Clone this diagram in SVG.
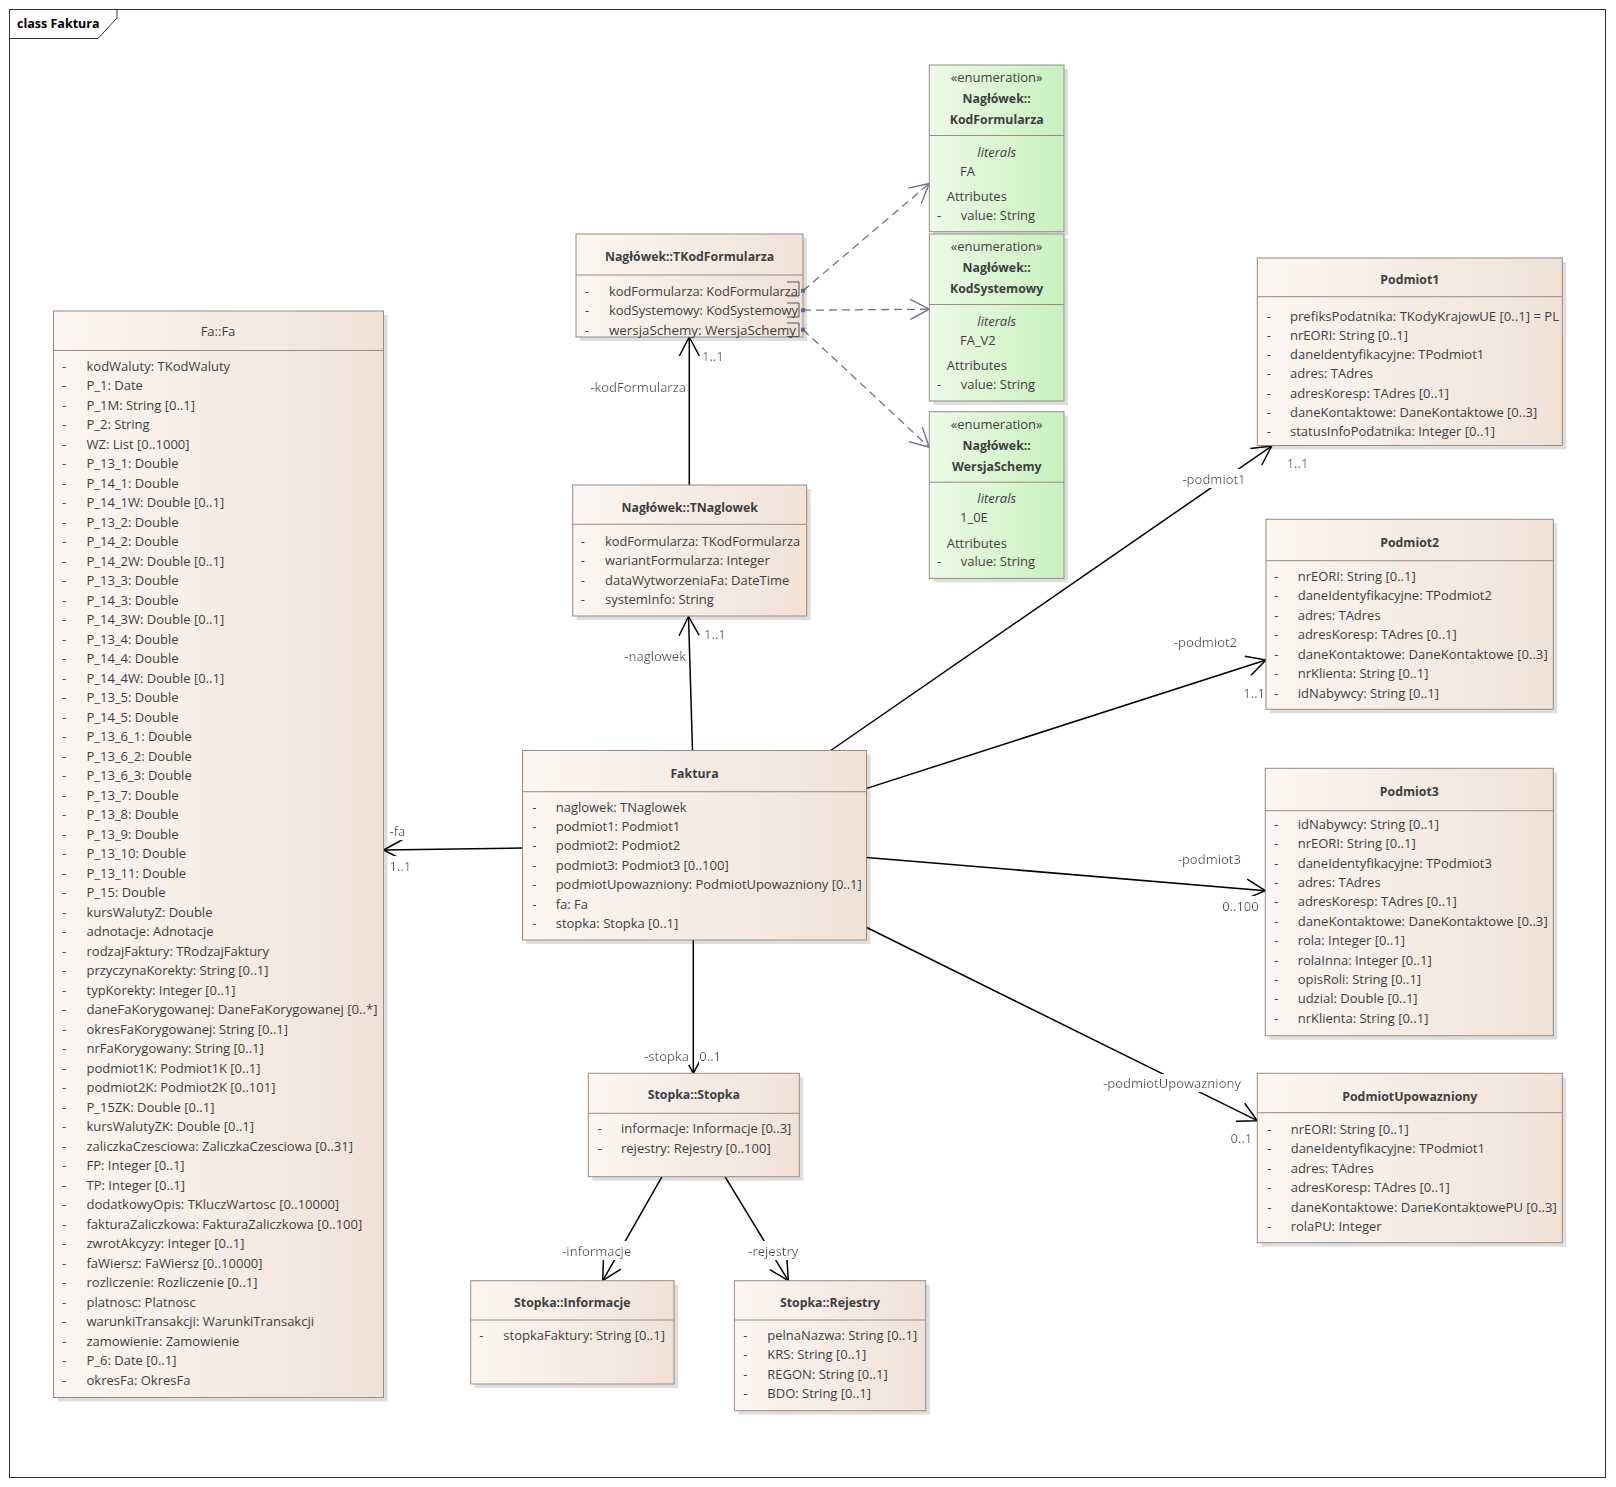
<svg xmlns="http://www.w3.org/2000/svg" width="1616" height="1487" viewBox="0 0 1616 1487">
<defs>
<linearGradient id="cls" x1="0" y1="0" x2="1" y2="0"><stop offset="0" stop-color="#fbf6f2"/><stop offset="1" stop-color="#f1e2d7"/></linearGradient>
<linearGradient id="enm" x1="0" y1="0" x2="1" y2="0"><stop offset="0" stop-color="#ecfbe7"/><stop offset="1" stop-color="#c9f0be"/></linearGradient>
<marker id="arr" markerUnits="userSpaceOnUse" viewBox="-21 -12 23 24" refX="0" refY="0" markerWidth="23" markerHeight="24" orient="auto"><path d="M-19,-10 L0,0 L-19,10" fill="none" stroke="#000" stroke-width="1.5"/></marker>
<marker id="arrg" markerUnits="userSpaceOnUse" viewBox="-21 -12 23 24" refX="0" refY="0" markerWidth="23" markerHeight="24" orient="auto"><path d="M-19,-10 L0,0 L-19,10" fill="none" stroke="#6a7684" stroke-width="1.4"/></marker>
<filter id="bg" x="0" y="0" width="1" height="1"><feFlood flood-color="#ffffff"/><feComposite in="SourceGraphic"/></filter>
</defs>
<style>
.t{font-family:"Open Sans","Noto Sans",sans-serif;font-size:13px;fill:#3e3e3e}
.h{font-weight:bold;font-size:12.3px;text-anchor:middle}
.m{text-anchor:middle}
.e{text-anchor:end}
.i{font-style:italic}
.box{fill:url(#cls);stroke:#9a8a82;stroke-width:1}
.en{fill:url(#enm);stroke:#8e8e84;stroke-width:1}
.sh{fill:#000;opacity:.13}
.sep{stroke:#9a8a82;stroke-width:1}
.c{stroke:#000;stroke-width:1.5;fill:none;marker-end:url(#arr)}
.d{stroke:#6a7684;stroke-width:1.3;stroke-dasharray:8 5;fill:none;marker-end:url(#arrg)}
.lb{fill:#4a4a4a}
.lb text{filter:url(#bg)}
.port{fill:none;stroke:#555;stroke-width:1}
</style>
<rect x="0" y="0" width="1616" height="1487" fill="#fff"/>
<g id="frame">
<rect x="9.5" y="9.5" width="1596" height="1468" fill="none" stroke="#333" stroke-width="1"/>
<path d="M9.5,38.5 H98 L117,18 V9.5" fill="none" stroke="#333" stroke-width="1"/>
<text x="17" y="28" class="t" style="font-weight:bold;font-size:12.5px;fill:#000">class Faktura</text>
</g>

<g id="connectors">
<path class="c" d="M689.3,485 V337"/>
<path class="c" d="M692.5,750.5 L688.5,616.5"/>
<path class="c" d="M522.5,848 L383.5,850"/>
<path class="c" d="M693.3,940 V1073.3"/>
<path class="c" d="M662,1176.7 L602.7,1280.7"/>
<path class="c" d="M725,1176.7 L788.3,1280.7"/>
<path class="c" d="M830.7,750.5 L1271.7,446"/>
<path class="c" d="M866.7,788.4 L1266,660"/>
<path class="c" d="M866.7,857.4 L1265.3,890.7"/>
<path class="c" d="M866.7,927.5 L1257.3,1120.7"/>
<path class="d" d="M803,290.7 L929.3,183.5"/>
<path class="d" d="M803,310.2 L929.3,309.2"/>
<path class="d" d="M803,329.7 L929.3,447.3"/>
<g class="t lb">
<text x="702" y="360.5">1..1</text>
<text x="686" y="391.5" class="e">-kodFormularza</text>
<text x="704" y="638.5">1..1</text>
<text x="686" y="661" class="e">-naglowek</text>
<text x="389.5" y="835.5">-fa</text>
<text x="389.5" y="870.5">1..1</text>
<text x="689" y="1060.5" class="e">-stopka</text>
<text x="699.3" y="1060.5">0..1</text>
<text x="596.7" y="1255.5" class="m">-informacje</text>
<text x="773.3" y="1255.5" class="m">-rejestry</text>
<text x="1214" y="483.5" class="m">-podmiot1</text>
<text x="1286.7" y="468">1..1</text>
<text x="1205.5" y="646.5" class="m">-podmiot2</text>
<text x="1265" y="697.5" class="e">1..1</text>
<text x="1209.3" y="863.5" class="m">-podmiot3</text>
<text x="1258.7" y="910.5" class="e">0..100</text>
<text x="1172" y="1088" class="m">-podmiotUpowazniony</text>
<text x="1252.3" y="1143" class="e">0..1</text>
</g>
</g>

<g id="Fa">
<rect class="sh" x="57.5" y="315" width="330" height="1086.5"/>
<rect class="box" x="53.5" y="311" width="330" height="1086.5"/>
<line class="sep" x1="53.5" y1="350.5" x2="383.5" y2="350.5"/>
<text class="t m" x="218" y="335.5">Fa::Fa</text>
<g class="t">
<text x="62" y="370.5">-</text><text x="86.5" y="370.5">kodWaluty: TKodWaluty</text>
<text x="62" y="390">-</text><text x="86.5" y="390">P_1: Date</text>
<text x="62" y="409.5">-</text><text x="86.5" y="409.5">P_1M: String [0..1]</text>
<text x="62" y="429">-</text><text x="86.5" y="429">P_2: String</text>
<text x="62" y="448.5">-</text><text x="86.5" y="448.5">WZ: List [0..1000]</text>
<text x="62" y="468">-</text><text x="86.5" y="468">P_13_1: Double</text>
<text x="62" y="487.5">-</text><text x="86.5" y="487.5">P_14_1: Double</text>
<text x="62" y="507">-</text><text x="86.5" y="507">P_14_1W: Double [0..1]</text>
<text x="62" y="526.5">-</text><text x="86.5" y="526.5">P_13_2: Double</text>
<text x="62" y="546">-</text><text x="86.5" y="546">P_14_2: Double</text>
<text x="62" y="565.5">-</text><text x="86.5" y="565.5">P_14_2W: Double [0..1]</text>
<text x="62" y="585">-</text><text x="86.5" y="585">P_13_3: Double</text>
<text x="62" y="604.5">-</text><text x="86.5" y="604.5">P_14_3: Double</text>
<text x="62" y="624">-</text><text x="86.5" y="624">P_14_3W: Double [0..1]</text>
<text x="62" y="643.5">-</text><text x="86.5" y="643.5">P_13_4: Double</text>
<text x="62" y="663">-</text><text x="86.5" y="663">P_14_4: Double</text>
<text x="62" y="682.5">-</text><text x="86.5" y="682.5">P_14_4W: Double [0..1]</text>
<text x="62" y="702">-</text><text x="86.5" y="702">P_13_5: Double</text>
<text x="62" y="721.5">-</text><text x="86.5" y="721.5">P_14_5: Double</text>
<text x="62" y="741">-</text><text x="86.5" y="741">P_13_6_1: Double</text>
<text x="62" y="760.5">-</text><text x="86.5" y="760.5">P_13_6_2: Double</text>
<text x="62" y="780">-</text><text x="86.5" y="780">P_13_6_3: Double</text>
<text x="62" y="799.5">-</text><text x="86.5" y="799.5">P_13_7: Double</text>
<text x="62" y="819">-</text><text x="86.5" y="819">P_13_8: Double</text>
<text x="62" y="838.5">-</text><text x="86.5" y="838.5">P_13_9: Double</text>
<text x="62" y="858">-</text><text x="86.5" y="858">P_13_10: Double</text>
<text x="62" y="877.5">-</text><text x="86.5" y="877.5">P_13_11: Double</text>
<text x="62" y="897">-</text><text x="86.5" y="897">P_15: Double</text>
<text x="62" y="916.5">-</text><text x="86.5" y="916.5">kursWalutyZ: Double</text>
<text x="62" y="936">-</text><text x="86.5" y="936">adnotacje: Adnotacje</text>
<text x="62" y="955.5">-</text><text x="86.5" y="955.5">rodzajFaktury: TRodzajFaktury</text>
<text x="62" y="975">-</text><text x="86.5" y="975">przyczynaKorekty: String [0..1]</text>
<text x="62" y="994.5">-</text><text x="86.5" y="994.5">typKorekty: Integer [0..1]</text>
<text x="62" y="1014">-</text><text x="86.5" y="1014" textLength="291" lengthAdjust="spacingAndGlyphs">daneFaKorygowanej: DaneFaKorygowanej [0..*]</text>
<text x="62" y="1033.5">-</text><text x="86.5" y="1033.5">okresFaKorygowanej: String [0..1]</text>
<text x="62" y="1053">-</text><text x="86.5" y="1053">nrFaKorygowany: String [0..1]</text>
<text x="62" y="1072.5">-</text><text x="86.5" y="1072.5">podmiot1K: Podmiot1K [0..1]</text>
<text x="62" y="1092">-</text><text x="86.5" y="1092">podmiot2K: Podmiot2K [0..101]</text>
<text x="62" y="1111.5">-</text><text x="86.5" y="1111.5">P_15ZK: Double [0..1]</text>
<text x="62" y="1131">-</text><text x="86.5" y="1131">kursWalutyZK: Double [0..1]</text>
<text x="62" y="1150.5">-</text><text x="86.5" y="1150.5">zaliczkaCzesciowa: ZaliczkaCzesciowa [0..31]</text>
<text x="62" y="1170">-</text><text x="86.5" y="1170">FP: Integer [0..1]</text>
<text x="62" y="1189.5">-</text><text x="86.5" y="1189.5">TP: Integer [0..1]</text>
<text x="62" y="1209">-</text><text x="86.5" y="1209">dodatkowyOpis: TKluczWartosc [0..10000]</text>
<text x="62" y="1228.5">-</text><text x="86.5" y="1228.5">fakturaZaliczkowa: FakturaZaliczkowa [0..100]</text>
<text x="62" y="1248">-</text><text x="86.5" y="1248">zwrotAkcyzy: Integer [0..1]</text>
<text x="62" y="1267.5">-</text><text x="86.5" y="1267.5">faWiersz: FaWiersz [0..10000]</text>
<text x="62" y="1287">-</text><text x="86.5" y="1287">rozliczenie: Rozliczenie [0..1]</text>
<text x="62" y="1306.5">-</text><text x="86.5" y="1306.5">platnosc: Platnosc</text>
<text x="62" y="1326">-</text><text x="86.5" y="1326">warunkiTransakcji: WarunkiTransakcji</text>
<text x="62" y="1345.5">-</text><text x="86.5" y="1345.5">zamowienie: Zamowienie</text>
<text x="62" y="1365">-</text><text x="86.5" y="1365">P_6: Date [0..1]</text>
<text x="62" y="1384.5">-</text><text x="86.5" y="1384.5">okresFa: OkresFa</text>
</g>
</g>

<g id="TKodFormularza">
<rect class="sh" x="580" y="238" width="227" height="103"/>
<rect class="box" x="576" y="234" width="227" height="103"/>
<line class="sep" x1="576" y1="275" x2="803" y2="275"/>
<text class="t h" x="689.5" y="261">Nagłówek::TKodFormularza</text>
<g class="t">
<text x="585" y="295.5">-</text><text x="609" y="295.5" textLength="189" lengthAdjust="spacingAndGlyphs">kodFormularza: KodFormularza</text>
<text x="585" y="315">-</text><text x="609" y="315" textLength="189" lengthAdjust="spacingAndGlyphs">kodSystemowy: KodSystemowy</text>
<text x="585" y="334.5">-</text><text x="609" y="334.5" textLength="187" lengthAdjust="spacingAndGlyphs">wersjaSchemy: WersjaSchemy</text>
</g>
<path class="port" d="M787,282 H799 V296 H787 M787,303 H799 V317 H787 M787,323 H799 V336.5 H787"/>
<rect x="801" y="288.7" width="4" height="4" fill="#5a6a8a"/>
<rect x="801" y="308.2" width="4" height="4" fill="#5a6a8a"/>
<rect x="801" y="327.7" width="4" height="4" fill="#5a6a8a"/>
</g>

<g id="TNaglowek">
<rect class="sh" x="576.7" y="489" width="234" height="131"/>
<rect class="box" x="572.7" y="485" width="234" height="131"/>
<line class="sep" x1="572.7" y1="524.3" x2="806.7" y2="524.3"/>
<text class="t h" x="689.7" y="511.5">Nagłówek::TNaglowek</text>
<g class="t">
<text x="580.7" y="545.8">-</text><text x="605" y="545.8" textLength="195" lengthAdjust="spacingAndGlyphs">kodFormularza: TKodFormularza</text>
<text x="580.7" y="565.3">-</text><text x="605" y="565.3">wariantFormularza: Integer</text>
<text x="580.7" y="584.8">-</text><text x="605" y="584.8">dataWytworzeniaFa: DateTime</text>
<text x="580.7" y="604.3">-</text><text x="605" y="604.3">systemInfo: String</text>
</g>
</g>

<g id="Faktura">
<rect class="sh" x="526.5" y="754.5" width="344" height="189.5"/>
<rect class="box" x="522.5" y="750.5" width="344" height="189.5"/>
<line class="sep" x1="522.5" y1="791.7" x2="866.5" y2="791.7"/>
<text class="t h" x="694.5" y="777.5">Faktura</text>
<g class="t">
<text x="532.3" y="811.5">-</text><text x="555.7" y="811.5">naglowek: TNaglowek</text>
<text x="532.3" y="830.9">-</text><text x="555.7" y="830.9">podmiot1: Podmiot1</text>
<text x="532.3" y="850.3">-</text><text x="555.7" y="850.3">podmiot2: Podmiot2</text>
<text x="532.3" y="869.7">-</text><text x="555.7" y="869.7">podmiot3: Podmiot3 [0..100]</text>
<text x="532.3" y="889.1">-</text><text x="555.7" y="889.1" textLength="306" lengthAdjust="spacingAndGlyphs">podmiotUpowazniony: PodmiotUpowazniony [0..1]</text>
<text x="532.3" y="908.5">-</text><text x="555.7" y="908.5">fa: Fa</text>
<text x="532.3" y="927.9">-</text><text x="555.7" y="927.9">stopka: Stopka [0..1]</text>
</g>
</g>

<g id="Stopka">
<rect class="sh" x="592.3" y="1077.3" width="211" height="103.4"/>
<rect class="box" x="588.3" y="1073.3" width="211" height="103.4"/>
<line class="sep" x1="588.3" y1="1113.3" x2="799.3" y2="1113.3"/>
<text class="t h" x="693.8" y="1099.3">Stopka::Stopka</text>
<g class="t">
<text x="597.7" y="1133">-</text><text x="621" y="1133">informacje: Informacje [0..3]</text>
<text x="597.7" y="1152.7">-</text><text x="621" y="1152.7">rejestry: Rejestry [0..100]</text>
</g>
</g>

<g id="Informacje">
<rect class="sh" x="474.7" y="1284.7" width="203.3" height="103.3"/>
<rect class="box" x="470.7" y="1280.7" width="203.3" height="103.3"/>
<line class="sep" x1="470.7" y1="1320" x2="674" y2="1320"/>
<text class="t h" x="572.3" y="1307">Stopka::Informacje</text>
<g class="t">
<text x="479.3" y="1339.8">-</text><text x="503.3" y="1339.8">stopkaFaktury: String [0..1]</text>
</g>
</g>

<g id="Rejestry">
<rect class="sh" x="738.3" y="1284.7" width="191.4" height="130"/>
<rect class="box" x="734.3" y="1280.7" width="191.4" height="130"/>
<line class="sep" x1="734.3" y1="1320" x2="925.7" y2="1320"/>
<text class="t h" x="830" y="1307">Stopka::Rejestry</text>
<g class="t">
<text x="743.3" y="1339.8">-</text><text x="767.3" y="1339.8">pelnaNazwa: String [0..1]</text>
<text x="743.3" y="1359.3">-</text><text x="767.3" y="1359.3">KRS: String [0..1]</text>
<text x="743.3" y="1378.8">-</text><text x="767.3" y="1378.8">REGON: String [0..1]</text>
<text x="743.3" y="1398.3">-</text><text x="767.3" y="1398.3">BDO: String [0..1]</text>
</g>
</g>

<g id="Podmiot1">
<rect class="sh" x="1261.3" y="262" width="305" height="187.5"/>
<rect class="box" x="1257.3" y="258" width="305" height="187.5"/>
<line class="sep" x1="1257.3" y1="296.7" x2="1562.3" y2="296.7"/>
<text class="t h" x="1409.8" y="284.3">Podmiot1</text>
<g class="t">
<text x="1266.7" y="320.5">-</text><text x="1290" y="320.5" textLength="269" lengthAdjust="spacingAndGlyphs">prefiksPodatnika: TKodyKrajowUE [0..1] = PL</text>
<text x="1266.7" y="339.8">-</text><text x="1290" y="339.8">nrEORI: String [0..1]</text>
<text x="1266.7" y="359.1">-</text><text x="1290" y="359.1">daneIdentyfikacyjne: TPodmiot1</text>
<text x="1266.7" y="378.4">-</text><text x="1290" y="378.4">adres: TAdres</text>
<text x="1266.7" y="397.7">-</text><text x="1290" y="397.7">adresKoresp: TAdres [0..1]</text>
<text x="1266.7" y="417">-</text><text x="1290" y="417">daneKontaktowe: DaneKontaktowe [0..3]</text>
<text x="1266.7" y="436.3">-</text><text x="1290" y="436.3">statusInfoPodatnika: Integer [0..1]</text>
</g>
</g>

<g id="Podmiot2">
<rect class="sh" x="1270" y="523.3" width="287.3" height="190"/>
<rect class="box" x="1266" y="519.3" width="287.3" height="190"/>
<line class="sep" x1="1266" y1="560.7" x2="1553.3" y2="560.7"/>
<text class="t h" x="1409.7" y="546.6">Podmiot2</text>
<g class="t">
<text x="1274.3" y="580.5">-</text><text x="1297.7" y="580.5">nrEORI: String [0..1]</text>
<text x="1274.3" y="600">-</text><text x="1297.7" y="600">daneIdentyfikacyjne: TPodmiot2</text>
<text x="1274.3" y="619.5">-</text><text x="1297.7" y="619.5">adres: TAdres</text>
<text x="1274.3" y="639">-</text><text x="1297.7" y="639">adresKoresp: TAdres [0..1]</text>
<text x="1274.3" y="658.5">-</text><text x="1297.7" y="658.5" textLength="250" lengthAdjust="spacingAndGlyphs">daneKontaktowe: DaneKontaktowe [0..3]</text>
<text x="1274.3" y="678">-</text><text x="1297.7" y="678">nrKlienta: String [0..1]</text>
<text x="1274.3" y="697.5">-</text><text x="1297.7" y="697.5">idNabywcy: String [0..1]</text>
</g>
</g>

<g id="Podmiot3">
<rect class="sh" x="1269.3" y="772.3" width="288" height="267.4"/>
<rect class="box" x="1265.3" y="768.3" width="288" height="267.4"/>
<line class="sep" x1="1265.3" y1="810.7" x2="1553.3" y2="810.7"/>
<text class="t h" x="1409.3" y="796">Podmiot3</text>
<g class="t">
<text x="1274.3" y="828.8">-</text><text x="1297.7" y="828.8">idNabywcy: String [0..1]</text>
<text x="1274.3" y="848.2">-</text><text x="1297.7" y="848.2">nrEORI: String [0..1]</text>
<text x="1274.3" y="867.6">-</text><text x="1297.7" y="867.6">daneIdentyfikacyjne: TPodmiot3</text>
<text x="1274.3" y="887">-</text><text x="1297.7" y="887">adres: TAdres</text>
<text x="1274.3" y="906.4">-</text><text x="1297.7" y="906.4">adresKoresp: TAdres [0..1]</text>
<text x="1274.3" y="925.8">-</text><text x="1297.7" y="925.8" textLength="250" lengthAdjust="spacingAndGlyphs">daneKontaktowe: DaneKontaktowe [0..3]</text>
<text x="1274.3" y="945.2">-</text><text x="1297.7" y="945.2">rola: Integer [0..1]</text>
<text x="1274.3" y="964.6">-</text><text x="1297.7" y="964.6">rolaInna: Integer [0..1]</text>
<text x="1274.3" y="984">-</text><text x="1297.7" y="984">opisRoli: String [0..1]</text>
<text x="1274.3" y="1003.4">-</text><text x="1297.7" y="1003.4">udzial: Double [0..1]</text>
<text x="1274.3" y="1022.8">-</text><text x="1297.7" y="1022.8">nrKlienta: String [0..1]</text>
</g>
</g>

<g id="PodmiotUpowazniony">
<rect class="sh" x="1261.3" y="1077.3" width="305" height="169.4"/>
<rect class="box" x="1257.3" y="1073.3" width="305" height="169.4"/>
<line class="sep" x1="1257.3" y1="1112.7" x2="1562.3" y2="1112.7"/>
<text class="t h" x="1409.8" y="1101">PodmiotUpowazniony</text>
<g class="t">
<text x="1267.3" y="1133.8">-</text><text x="1290.7" y="1133.8">nrEORI: String [0..1]</text>
<text x="1267.3" y="1153.3">-</text><text x="1290.7" y="1153.3">daneIdentyfikacyjne: TPodmiot1</text>
<text x="1267.3" y="1172.8">-</text><text x="1290.7" y="1172.8">adres: TAdres</text>
<text x="1267.3" y="1192.3">-</text><text x="1290.7" y="1192.3">adresKoresp: TAdres [0..1]</text>
<text x="1267.3" y="1211.8">-</text><text x="1290.7" y="1211.8" textLength="266" lengthAdjust="spacingAndGlyphs">daneKontaktowe: DaneKontaktowePU [0..3]</text>
<text x="1267.3" y="1231.3">-</text><text x="1290.7" y="1231.3">rolaPU: Integer</text>
</g>
</g>

<g id="KodFormularza">
<rect class="sh" x="933.3" y="69" width="134.7" height="166.7"/>
<rect class="en" x="929.3" y="65" width="134.7" height="166.7"/>
<line class="sep" x1="929.3" y1="135.5" x2="1064" y2="135.5"/>
<g class="t">
<text class="m" x="996.7" y="82">«enumeration»</text>
<text class="h" x="996.7" y="103">Nagłówek::</text>
<text class="h" x="996.7" y="124">KodFormularza</text>
<text class="m i" x="996.7" y="156.5">literals</text>
<text x="960" y="175.5">FA</text>
<text x="946.7" y="201">Attributes</text>
<text x="937" y="219.5">-</text><text x="960.7" y="219.5">value: String</text>
</g>
</g>

<g id="KodSystemowy">
<rect class="sh" x="933.3" y="238" width="134.7" height="167"/>
<rect class="en" x="929.3" y="234" width="134.7" height="167"/>
<line class="sep" x1="929.3" y1="304.5" x2="1064" y2="304.5"/>
<g class="t">
<text class="m" x="996.7" y="251">«enumeration»</text>
<text class="h" x="996.7" y="272">Nagłówek::</text>
<text class="h" x="996.7" y="293">KodSystemowy</text>
<text class="m i" x="996.7" y="325.5">literals</text>
<text x="960" y="344.5">FA_V2</text>
<text x="946.7" y="370">Attributes</text>
<text x="937" y="388.5">-</text><text x="960.7" y="388.5">value: String</text>
</g>
</g>

<g id="WersjaSchemy">
<rect class="sh" x="933.3" y="415.7" width="134.7" height="166.7"/>
<rect class="en" x="929.3" y="411.7" width="134.7" height="166.7"/>
<line class="sep" x1="929.3" y1="482.2" x2="1064" y2="482.2"/>
<g class="t">
<text class="m" x="996.7" y="428.7">«enumeration»</text>
<text class="h" x="996.7" y="449.7">Nagłówek::</text>
<text class="h" x="996.7" y="470.7">WersjaSchemy</text>
<text class="m i" x="996.7" y="503.2">literals</text>
<text x="960" y="522.2">1_0E</text>
<text x="946.7" y="547.7">Attributes</text>
<text x="937" y="566.2">-</text><text x="960.7" y="566.2">value: String</text>
</g>
</g>
</svg>
